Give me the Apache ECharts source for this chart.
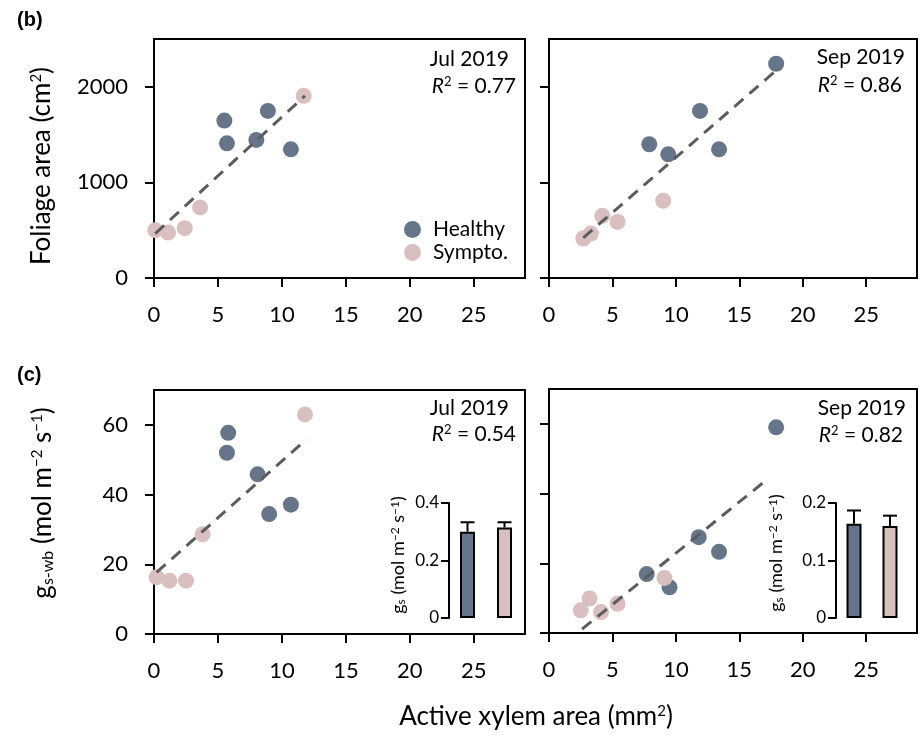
<!DOCTYPE html>
<html>
<head>
<meta charset="utf-8">
<script src="https://cdn.jsdelivr.net/npm/echarts@6/dist/echarts.min.js"></script>
<style>
html, body { margin: 0; background: #fff; }
#chart { width: 920px; height: 737px; }
</style>
</head>
<body>
<div id="chart"></div>
<script>
const FONT = 'Lato'
const healthyColor = '#66758a'
const symptoColor = '#d9bfbf'
const fitColor = '#5c5c5c'

// tick labels
const xTicks = [0, 5, 10, 15, 20, 25]
const foliageTicks = [0, 1000, 2000]
const gswbTicks = [0, 20, 40, 60]
const julGsTicks = [0, 0.2, 0.4]
const sepGsTicks = [0, 0.1, 0.2]

// (b) foliage area vs active xylem area
const julFoliageHealthy = [[5.5, 1647], [5.7, 1409], [8.0, 1444], [8.9, 1748], [10.7, 1346]]
const julFoliageSympto = [[0.1, 500], [1.1, 476], [2.4, 521], [3.6, 738], [11.7, 1906]]
const julFoliageFit = [[0.1, 465], [11.8, 1906]]
const sepFoliageHealthy = [[17.9, 2241], [11.9, 1748], [7.9, 1399], [9.4, 1294], [13.4, 1346]]
const sepFoliageSympto = [[9.0, 808], [4.2, 650], [5.4, 587], [3.3, 465], [2.7, 413]]
const sepFoliageFit = [[2.7, 420], [17.9, 2171]]

// (c) whole-branch conductance vs active xylem area
const julGswbHealthy = [[5.8, 57.7], [5.7, 52.0], [8.1, 45.8], [9.0, 34.4], [10.7, 37.1]]
const julGswbSympto = [[11.8, 63.0], [3.8, 28.6], [0.2, 16.3], [1.2, 15.3], [2.5, 15.3]]
const julGswbFit = [[0.2, 17.7], [11.9, 55.8]]
const sepGswbHealthy = [[17.9, 59.0], [11.8, 27.5], [13.4, 23.3], [7.7, 16.9], [9.5, 13.1]]
const sepGswbSympto = [[9.1, 15.8], [3.2, 9.9], [2.5, 6.5], [4.1, 6.0], [5.4, 8.4]]
const sepGswbFit = [[2.6, 1.1], [17.0, 43.5]]

// insets: leaf g_s
const groups = ['Healthy', 'Sympto.']
const julGsMean = [0.30, 0.315]
const julGsErr = [0.033, 0.018]
const sepGsMean = [0.164, 0.160]
const sepGsErr = [0.023, 0.018]

let chart = echarts.init(document.getElementById('chart'))

const blackLine = { color: '#000', width: 2 }
const plain = v => String(v)

function mainGrid(left, top, width, height) {
    return { left: left, top: top, width: width, height: height, show: true, borderColor: '#000', borderWidth: 2, backgroundColor: 'transparent' }
}

function mainX(i) {
    return {
        type: 'value', gridIndex: i, min: 0, max: 29, interval: 5,
        axisLine: { show: true, onZero: false, lineStyle: blackLine },
        axisTick: { show: true, length: 9, lineStyle: blackLine, customValues: xTicks },
        axisLabel: { customValues: xTicks, formatter: plain, fontSize: 22, fontFamily: FONT, color: '#000', margin: 26 },
        splitLine: { show: false }
    }
}

function mainY(i, max, interval, ticks, showLabels) {
    return {
        type: 'value', gridIndex: i, min: 0, max: max, interval: interval,
        axisLine: { show: true, onZero: false, lineStyle: blackLine },
        axisTick: { show: true, length: 9, lineStyle: blackLine, customValues: ticks },
        axisLabel: { show: showLabels, customValues: ticks, formatter: plain, fontSize: 22, fontFamily: FONT, color: '#000', margin: 26 },
        splitLine: { show: false }
    }
}

function insetY(i, max, interval, ticks) {
    return {
        type: 'value', gridIndex: i, min: 0, max: max, interval: interval,
        axisLine: { show: true, lineStyle: blackLine },
        axisTick: { show: true, length: 8, lineStyle: blackLine, customValues: ticks },
        axisLabel: { customValues: ticks, formatter: plain, fontSize: 17, fontFamily: FONT, color: '#000', margin: 10 },
        splitLine: { show: false }
    }
}

function panelSeries(i, healthy, sympto, fit) {
    return [
        { type: 'scatter', name: 'Healthy', xAxisIndex: i, yAxisIndex: i, data: healthy, symbolSize: 16, itemStyle: { color: healthyColor, opacity: 1 }, z: 2 },
        { type: 'scatter', name: 'Sympto.', xAxisIndex: i, yAxisIndex: i, data: sympto, symbolSize: 16, itemStyle: { color: symptoColor, opacity: 1 }, z: 2 },
        { type: 'line', xAxisIndex: i, yAxisIndex: i, data: fit, symbol: 'none', silent: true, z: 3,
          lineStyle: { color: fitColor, width: 3, type: [12, 8], cap: 'butt' } }
    ]
}

function insetSeries(i, mean, err) {
    return [
        { type: 'bar', xAxisIndex: i, yAxisIndex: i, barWidth: 15,
          data: mean.map((v, k) => ({ value: v, itemStyle: { color: k ? symptoColor : healthyColor } })),
          itemStyle: { borderColor: '#000', borderWidth: 2 } },
        { type: 'custom', xAxisIndex: i, yAxisIndex: i, z: 4,
          data: mean.map((v, k) => [k, v, err[k]]),
          encode: { x: 0, y: 1 },
          renderItem: function (params, api) {
              let p0 = api.coord([api.value(0), api.value(1)])
              let p1 = api.coord([api.value(0), api.value(1) + api.value(2)])
              return {
                  type: 'group',
                  children: [
                      { type: 'line', shape: { x1: p0[0], y1: p0[1], x2: p1[0], y2: p1[1] }, style: { stroke: '#000', lineWidth: 2 } },
                      { type: 'line', shape: { x1: p1[0] - 7, y1: p1[1], x2: p1[0] + 7, y2: p1[1] }, style: { stroke: '#000', lineWidth: 2 } }
                  ]
              }
          } }
    ]
}

const supRich = {
    sup: { fontSize: 15, fontFamily: FONT, verticalAlign: 'top', fill: '#000' },
    sub: { fontSize: 16, fontFamily: FONT, verticalAlign: 'bottom', fill: '#000' }
}
const smallRich = {
    n: { fontSize: 18, fontFamily: FONT, fill: '#000' },
    sup: { fontSize: 12, fontFamily: FONT, verticalAlign: 'top', fill: '#000' },
    sub: { fontSize: 12, fontFamily: FONT, verticalAlign: 'bottom', fill: '#000' }
}
const r2Rich = {
    i: { fontStyle: 'italic', fontSize: 21, fontFamily: FONT, fill: '#000' },
    sup: { fontSize: 13, fontFamily: FONT, verticalAlign: 'top', fill: '#000' }
}

function label(x, y, text, size, align) {
    return { type: 'text', x: x, y: y,
        style: { text: text, fontSize: size, fontFamily: FONT, fill: '#000', align: align, verticalAlign: 'middle' } }
}

function r2Label(x, y, value) {
    return { type: 'text', x: x, y: y,
        style: { text: '{i|R}{sup|2} = ' + value, rich: r2Rich, fontSize: 21, fontFamily: FONT, fill: '#000', align: 'right', verticalAlign: 'middle' } }
}

function insetTitle(x, y) {
    return { type: 'text', x: x, y: y, rotation: Math.PI / 2,
        style: { text: '{n|g}{sub|s}{n| (mol m}{sup|\u22122}{n| s}{sup|\u22121}{n|)}', rich: smallRich, fontSize: 18, fontFamily: FONT, fill: '#000', align: 'center', verticalAlign: 'middle' } }
}

chart.setOption({
    animation: false,
    backgroundColor: '#fff',
    grid: [
        mainGrid(154, 39, 371, 239),
        mainGrid(549, 39, 368, 239),
        mainGrid(154, 390, 371, 244),
        mainGrid(549, 389, 368, 244),
        { left: 449, top: 503, width: 74, height: 115 },
        { left: 836, top: 503, width: 72, height: 115 }
    ],
    xAxis: [
        mainX(0), mainX(1), mainX(2), mainX(3),
        { type: 'category', gridIndex: 4, data: groups, show: false },
        { type: 'category', gridIndex: 5, data: groups, show: false }
    ],
    yAxis: [
        mainY(0, 2500, 1000, foliageTicks, true),
        mainY(1, 2500, 1000, foliageTicks, false),
        mainY(2, 70, 20, gswbTicks, true),
        mainY(3, 70, 20, gswbTicks, false),
        insetY(4, 0.4, 0.2, julGsTicks),
        insetY(5, 0.2, 0.1, sepGsTicks)
    ],
    legend: {
        data: ['Healthy', 'Sympto.'],
        orient: 'vertical',
        left: 399,
        top: 214,
        padding: 5,
        itemWidth: 17,
        itemHeight: 17,
        itemGap: 2,
        icon: 'circle',
        selectedMode: false,
        textStyle: { fontSize: 21, fontFamily: FONT, color: '#000', padding: [0, 0, 0, 7] }
    },
    series: [].concat(
        panelSeries(0, julFoliageHealthy, julFoliageSympto, julFoliageFit),
        panelSeries(1, sepFoliageHealthy, sepFoliageSympto, sepFoliageFit),
        panelSeries(2, julGswbHealthy, julGswbSympto, julGswbFit),
        panelSeries(3, sepGswbHealthy, sepGswbSympto, sepGswbFit),
        insetSeries(4, julGsMean, julGsErr),
        insetSeries(5, sepGsMean, sepGsErr)
    ),
    graphic: [
        { type: 'text', x: 17, y: 20, style: { text: '(b)', fontSize: 20, fontWeight: 'bold', fontFamily: 'Liberation Sans', fill: '#000', verticalAlign: 'middle' } },
        { type: 'text', x: 17, y: 375, style: { text: '(c)', fontSize: 20, fontWeight: 'bold', fontFamily: 'Liberation Sans', fill: '#000', verticalAlign: 'middle' } },

        label(509, 59, 'Jul 2019', 21, 'right'),
        r2Label(516, 86, '0.77'),
        label(905, 57, 'Sep 2019', 21, 'right'),
        r2Label(902, 85, '0.86'),
        label(509, 408, 'Jul 2019', 21, 'right'),
        r2Label(516, 434, '0.54'),
        label(906, 408, 'Sep 2019', 21, 'right'),
        r2Label(903, 435, '0.82'),

        { type: 'text', x: 42, y: 166, rotation: Math.PI / 2,
          style: { text: 'Foliage area (cm{sup|2})', rich: supRich, fontSize: 26, fontFamily: FONT, fill: '#000', align: 'center', verticalAlign: 'middle' } },
        { type: 'text', x: 43, y: 503, rotation: Math.PI / 2,
          style: { text: 'g{sub|s-wb} (mol m{sup|\u22122} s{sup|\u22121})', rich: supRich, fontSize: 26, fontFamily: FONT, fill: '#000', align: 'center', verticalAlign: 'middle' } },
        { type: 'text', x: 536, y: 717,
          style: { text: 'Active xylem area (mm{sup|2})', rich: supRich, fontSize: 26, fontFamily: FONT, fill: '#000', align: 'center', verticalAlign: 'middle' } },

        insetTitle(398, 555),
        insetTitle(776, 553)
    ]
})
</script>
</body>
</html>
